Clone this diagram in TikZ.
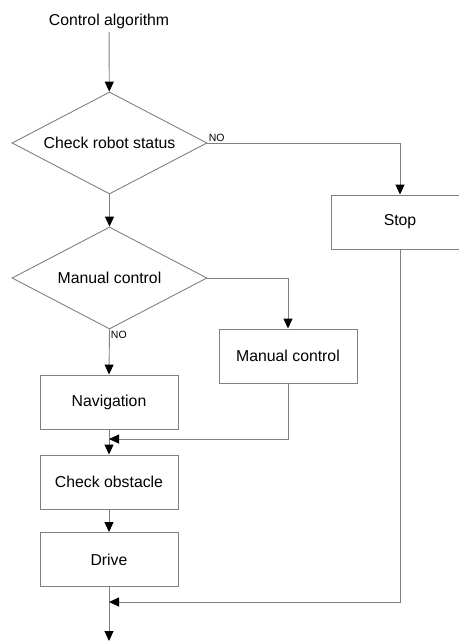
\documentclass[tikz,border=0pt]{standalone}
\usepackage{fontspec}
\setmainfont{Liberation Sans}
\usetikzlibrary{shapes.geometric,arrows.meta}
\definecolor{linegray}{gray}{0.5}

\begin{document}
\begin{tikzpicture}[x=1pt,y=1pt,
		font=\fontsize{15.8}{18}\selectfont,
		box/.style={draw=linegray, line width=0.9pt, minimum width=138pt, minimum height=54pt, inner sep=0pt},
		decision/.style={diamond, aspect=1.9, draw=linegray, line width=0.9pt, minimum width=195pt, minimum height=102pt, inner sep=0pt},
		flow/.style={draw=linegray, line width=0.9pt, -{Triangle[length=10pt, width=9pt, color=black]}},
		small/.style={font=\fontsize{10.5}{12}\selectfont, inner sep=1pt}]
		\useasboundingbox (0,0) rectangle (458,-642);

		\node (title) at (109,-21) {Control algorithm};
		\node[decision] (status) at (109.5,-143) {Check robot status};
		\node[box] (stop) at (400,-222) {Stop};
		\node[decision] (manual) at (109.5,-278) {Manual control};
		\node[box] (remote) at (288,-356) {Manual control};
		\node[box] (nav) at (109,-402) {Navigation};
		\node[box] (obstacle) at (109,-482) {Check obstacle};
		\node[box] (drive) at (109,-559.5) {Drive};
		\coordinate (merge) at (109,-439);
		\coordinate (join) at (109,-602);
		\coordinate (end) at (109,-641);

		\draw[flow] (title) -- (status);
		\draw[flow] (status.east) node [above right, small] {NO} -| (stop.north);
		\draw[flow] (status) -- (manual);
		\draw[flow] (manual.east) -| (remote.north);
		\draw[flow] (manual.south) node [below right, small] {NO} -- (nav.north);
		\draw[flow] (nav) -- (obstacle);
		\draw[flow] (remote.south) |- (merge);
		\draw[flow] (obstacle) -- (drive);
		\draw[flow] (drive) -- (end);
		\draw[flow] (stop.south) |- (join);
	\end{tikzpicture}
\end{document}
